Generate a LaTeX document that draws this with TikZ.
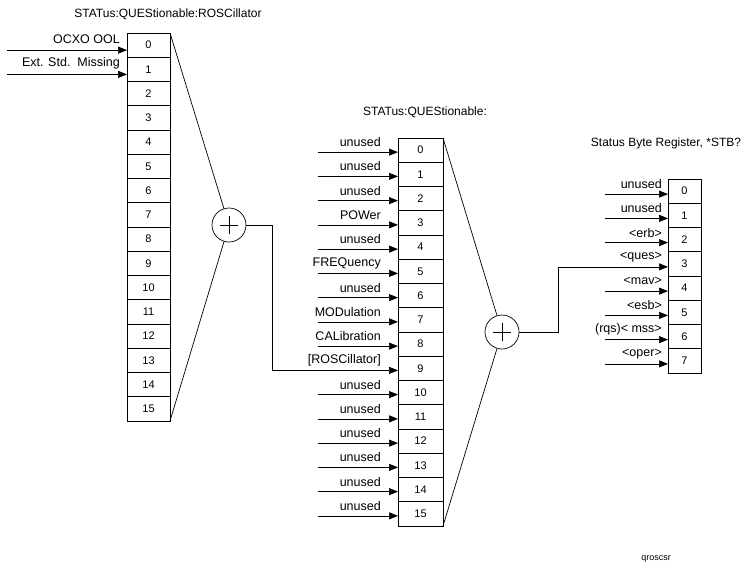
\documentclass[tikz,border=0pt]{standalone}
\usepackage{fontspec}
\setmainfont{Liberation Sans}
\usetikzlibrary{arrows.meta,positioning,calc}

\begin{document}
\begin{tikzpicture}[
            x=1pt, y=-1pt,
            >={Triangle[length=9pt,width=7pt]},
            regbit/.style={draw, line width=0.6pt, minimum width=#1, minimum height=24.25pt,
                           inner sep=0pt, outer sep=0pt, font=\fontsize{11}{12}\selectfont},
            regbit/.default=43pt,
            lbl/.style={font=\fontsize{12.5}{14}\selectfont, inner sep=1pt},
            ttl/.style={font=\fontsize{12}{14}\selectfont},
            sig/.style={->, line width=0.7pt},
            wire/.style={line width=0.7pt},
            sum/.style={draw, circle, minimum size=34pt, inner sep=0pt, line width=0.7pt,
                        path picture={\draw[line width=0.7pt]
                          ($(path picture bounding box.center)+(-9pt,0pt)$) -- ++(18pt,0pt)
                          ($(path picture bounding box.center)+(0pt,-9pt)$) -- ++(0pt,18pt);}}
          ]
          \useasboundingbox (0,0) rectangle (741,565);
          % titles
          \node[ttl] (ros-title)  at (168,14)  {STATus:QUEStionable:ROSCillator};
          \node[ttl] (ques-title) at (425,112) {STATus:QUEStionable:};
          \node[ttl] (stb-title)  at (666,143) {Status Byte Register, *STB?};
          \node[font=\fontsize{9}{10}\selectfont] (fig-id) at (656,559) {qroscsr};
          % ROSCillator register
          \foreach \i in {0,...,15}
            \node[regbit=43pt] (ros-\i) at (148.5,{33+(\i+0.5)*24.25}) {\i};
          \foreach \lab [count=\i from 0] in {OCXO OOL,Ext. Std.~~Missing} {
            \node[lbl, anchor=east] (rl-\i) at ([xshift=-6pt,yshift=6pt]ros-\i.west) {\lab};
            \coordinate (rin-\i) at ([xshift=-120pt,yshift=-5pt]ros-\i.west);
            \draw[sig] (rin-\i) -- ([yshift=-5pt]ros-\i.west);
          }
          \node[sum] (sum1) at (229,225) {};
          \draw[wire] (ros-0.north east) -- (sum1);
          \draw[wire] (ros-15.south east) -- (sum1);
          % QUEStionable register
          \foreach \lab [count=\i from 0] in {unused,unused,unused,POWer,unused,FREQuency,unused,
                                              MODulation,CALibration,[ROSCillator],unused,unused,
                                              unused,unused,unused,unused} {
            \node[regbit=45pt] (ques-\i) at (420.5,{138+(\i+0.5)*24.25}) {\i};
            \node[lbl, anchor=east] (ql-\i) at ([xshift=-16pt,yshift=8pt]ques-\i.west) {\lab};
            \ifnum\i=9 \else
              \coordinate (qin-\i) at ([xshift=-80pt,yshift=-2pt]ques-\i.west);
              \draw[sig] (qin-\i) -- ([yshift=-2pt]ques-\i.west);
            \fi
          }
          \coordinate (bend1) at (272,0);
          \draw[sig] (sum1.east) -- (sum1.east -| bend1) |- ([yshift=-2pt]ques-9.west);
          \node[sum] (sum2) at (502,332) {};
          \draw[wire] (ques-0.north east) -- (sum2);
          \draw[wire] (ques-15.south east) -- (sum2);
          % Status Byte register
          \foreach \lab [count=\i from 0] in {unused,unused,<erb>,<ques>,<mav>,<esb>,(rqs)< mss>,<oper>} {
            \node[regbit=33pt] (stb-\i) at (684.5,{179+(\i+0.5)*24.25}) {\i};
            \node[lbl, anchor=east] (sl-\i) at ([xshift=-5pt,yshift=7pt]stb-\i.west) {\lab};
            \ifnum\i=3 \else
              \coordinate (sin-\i) at ([xshift=-63pt,yshift=-3pt]stb-\i.west);
              \draw[sig] (sin-\i) -- ([yshift=-3pt]stb-\i.west);
            \fi
          }
          \coordinate (bend2) at (558,0);
          \draw[sig] (sum2.east) -- (sum2.east -| bend2) |- ([yshift=-3pt]stb-3.west);
        \end{tikzpicture}
\end{document}
